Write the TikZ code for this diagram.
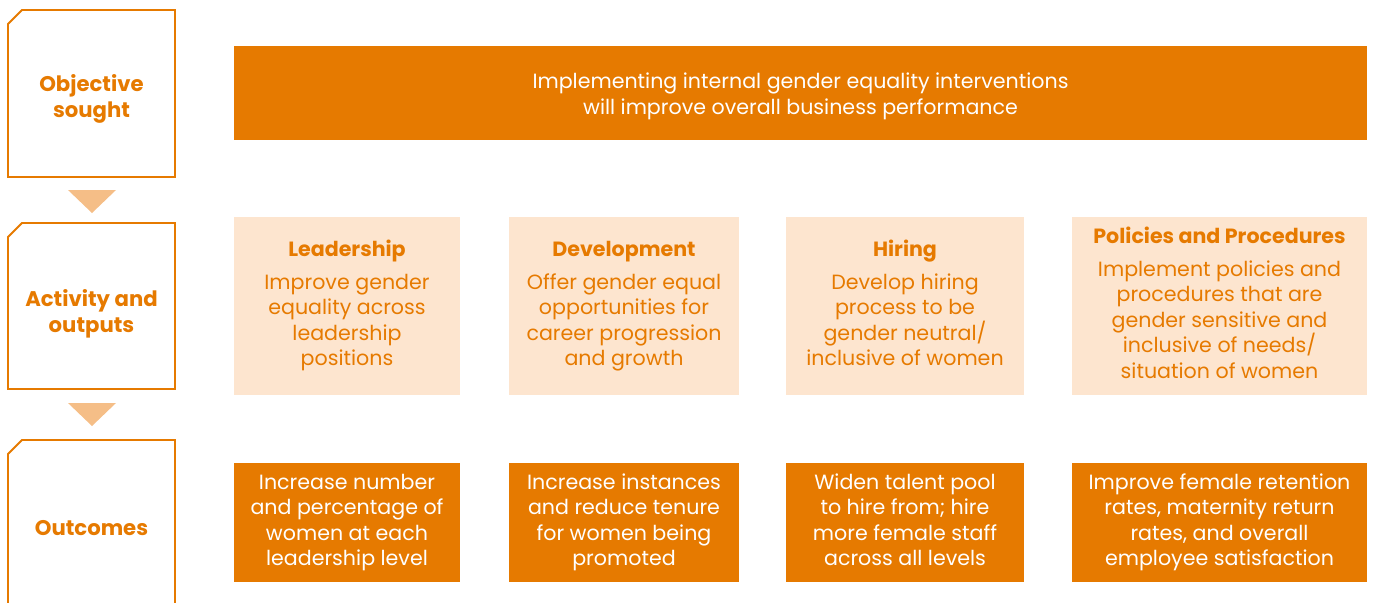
\documentclass[tikz,border=0pt]{standalone}
\usepackage{fontspec}
\setmainfont{Poppins}
\usepackage{xcolor}
\usetikzlibrary{shapes.misc}
\definecolor{orgdark}{RGB}{230,122,0}
\definecolor{orglight}{RGB}{253,229,207}
\definecolor{orgarrow}{RGB}{245,190,135}
\newcommand{\padtop}[1]{\rule{0pt}{#1}}

\begin{document}
\begin{tikzpicture}[x=0.5pt,y=-0.5pt,
  stage/.style={chamfered rectangle,chamfered rectangle corners=north west,
    chamfered rectangle xsep=3.5pt,chamfered rectangle ysep=3.5pt,
    draw=orgdark,line width=0.9pt,fill=white,inner sep=0pt,
    minimum width=83.5pt,text=orgdark,font=\fontsize{10.6}{12.6}\selectfont\bfseries,align=center,
    execute at end node=\strut},
  activity/.style={fill=orglight,text=orgdark,inner sep=0pt,minimum height=89pt,
    font=\fontsize{10.3}{12.75}\selectfont,align=center,execute at end node=\strut},
  outcome/.style={fill=orgdark,text=white,inner sep=0pt,minimum height=59.5pt,
    font=\fontsize{10.3}{12.75}\selectfont,align=center,execute at end node=\strut}]
  \clip (0,0) rectangle (1375,602);
  \useasboundingbox (0,0) rectangle (1375,602);
  % left column
  \node[stage,minimum height=83.5pt] (objective) at (91.5,93.5) {\padtop{14.8pt}Objective\\sought};
  \node[stage,minimum height=83pt] (activities) at (91.5,306) {\padtop{17.3pt}Activity and\\outputs};
  \node[stage,minimum height=87pt] (outcomes) at (91.5,527) {\padtop{11.8pt}Outcomes};
  \fill[orgarrow] (68,190)--(116,190)--(92,213)--cycle;
  \fill[orgarrow] (68,403)--(116,403)--(92,426)--cycle;
  % objective banner
  \node[outcome,minimum width=566.5pt,minimum height=47pt] (banner) at (800.5,93)
    {\padtop{12.4pt}Implementing internal gender equality interventions\\will improve overall business performance};
  % activities
  \node[activity,minimum width=113pt] (lead) at (347,306)
    {\padtop{9pt}{\bfseries Leadership}\\[3.5pt]Improve gender\\equality across\\leadership\\positions};
  \node[activity,minimum width=115pt] (devel) at (624,306)
    {\padtop{9pt}{\bfseries Development}\\[3.5pt]Offer gender equal\\opportunities for\\career progression\\and growth};
  \node[activity,minimum width=119pt] (hiring) at (905,306)
    {\padtop{9pt}{\bfseries Hiring}\\[3.5pt]Develop hiring\\process to be\\gender neutral/\\inclusive of women};
  \node[activity,minimum width=147.5pt] (policy) at (1219.5,306)
    {\padtop{9pt}{\bfseries Policies and Procedures}\\[3.5pt]Implement policies and\\procedures that are\\gender sensitive and\\inclusive of needs/\\situation of women};
  % outcomes
  \node[outcome,minimum width=113pt] (leadout) at (347,522.5)
    {\padtop{9pt}Increase number\\and percentage of\\women at each\\leadership level};
  \node[outcome,minimum width=115pt] (develout) at (624,522.5)
    {\padtop{9pt}Increase instances\\and reduce tenure\\for women being\\promoted};
  \node[outcome,minimum width=119pt] (hiringout) at (905,522.5)
    {\padtop{9pt}Widen talent pool\\to hire from; hire\\more female staff\\across all levels};
  \node[outcome,minimum width=147.5pt] (policyout) at (1219.5,522.5)
    {\padtop{9pt}Improve female retention\\rates, maternity return\\rates, and overall\\employee satisfaction};
\end{tikzpicture}
\end{document}
